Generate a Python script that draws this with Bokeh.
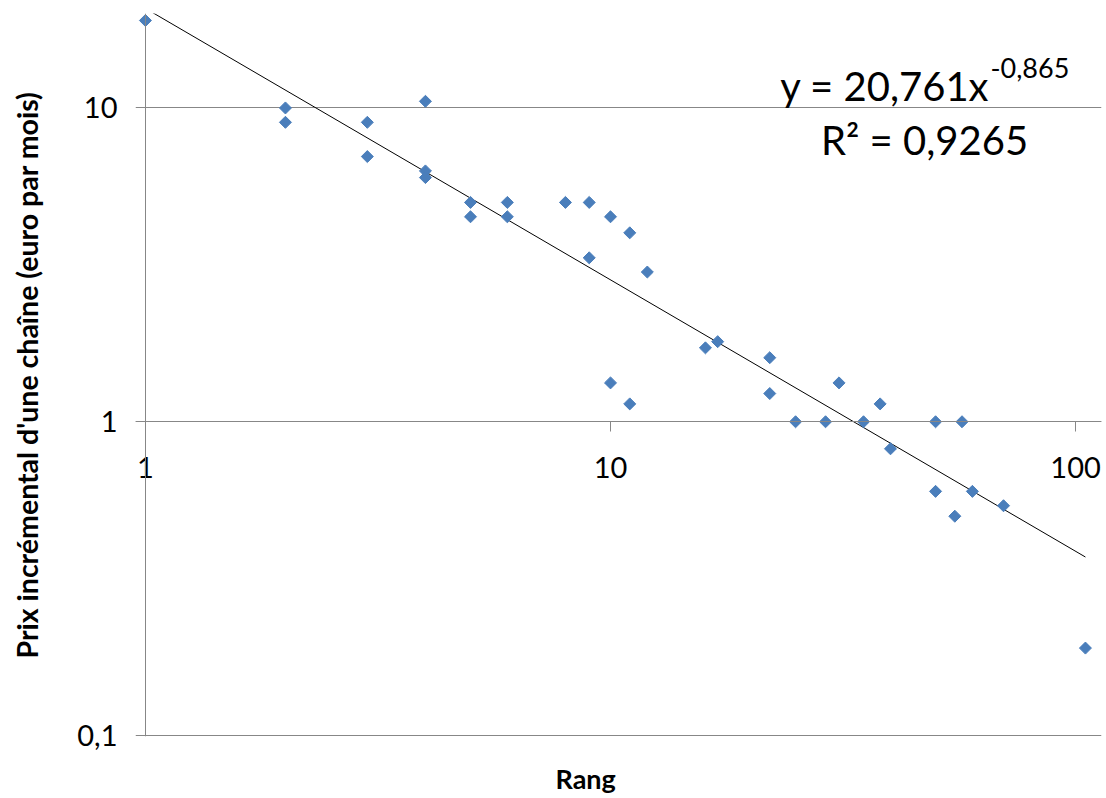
import math
from bokeh.plotting import figure
from bokeh.models import (Range1d, FixedTicker, CustomJSTickFormatter, Label,
                          LogAxis, Title)
from bokeh.embed import file_html
from bokeh.resources import INLINE

# ---- data ----
rank = [1, 2, 2, 3, 3, 4, 4, 4, 5, 5, 6, 6, 8, 9, 9, 10, 10, 11, 11, 12,
        16, 17, 22, 22, 25, 29, 31, 35, 38, 40, 50, 50, 55, 57, 60, 70, 105]
price = [19, 10, 9, 9, 7, 10.5, 6.3, 6, 5, 4.5, 5, 4.5, 5, 5, 3.33, 4.5, 1.33, 4, 1.14, 3,
         1.72, 1.8, 1.6, 1.23, 1, 1, 1.33, 1, 1.14, 0.82, 1, 0.6, 0.5, 1, 0.6, 0.54, 0.19]
fit_a = 20.761
fit_b = -0.865
r2_text = "R² = 0,9265"
eq_main = "y = 20,761x"
eq_exp = "-0,865"
x_ticks = [1, 10, 100]
y_ticks = [0.1, 1, 10]
x_title = "Rang"
y_title = "Prix incrémental d'une chaîne (euro par mois)"

FONT = "Lato"
GRID = "#878787"
BLUE = "#4A7EBB"

W, H = 1104, 798
ML, MR, MT, MB = 135, 3, 13, 62
X_START, X_END, Y_START, Y_END = 0.952, 113.7, 0.0993, 20

fmt_code = "return String(tick).replace('.', ',');"

p = figure(width=W, height=H, x_axis_type="log", y_axis_type="log",
           x_range=Range1d(X_START, X_END), y_range=Range1d(Y_START, Y_END),
           output_backend="svg", toolbar_location=None, x_axis_location=None,
           min_border_left=ML, min_border_right=MR, min_border_top=MT,
           min_border_bottom=MB, background_fill_color="white",
           border_fill_color="white")
p.outline_line_color = None
p.xgrid.grid_line_color = None
p.ygrid.ticker = FixedTicker(ticks=y_ticks)
p.ygrid.grid_line_color = GRID
p.ygrid.grid_line_width = 1
p.ygrid.minor_grid_line_color = None

# left axis: labels and title only (gridlines reach past the axis as tick marks)
ya = p.yaxis[0]
ya.ticker = FixedTicker(ticks=y_ticks)
ya.formatter = CustomJSTickFormatter(code=fmt_code)
ya.axis_line_color = None
ya.major_tick_line_color = None
ya.major_tick_out = 0
ya.major_tick_in = 0
ya.minor_tick_line_color = None
ya.major_label_standoff = 18
ya.major_label_text_font = FONT
ya.major_label_text_font_size = "29px"
ya.major_label_text_color = "black"
ya.axis_label = y_title
ya.axis_label_text_font = FONT
ya.axis_label_text_font_style = "bold"
ya.axis_label_text_font_size = "28.5px"
ya.axis_label_text_color = "black"
ya.axis_label_standoff = 30

# vertical axis line at x = 1
yline = LogAxis(fixed_location=1, ticker=FixedTicker(ticks=[]))
yline.axis_line_color = GRID
yline.major_tick_out = 0
yline.major_tick_in = 0
yline.minor_tick_line_color = None
yline.major_label_text_font_size = "0px"
p.add_layout(yline, "left")

# x axis crossing the y axis at y = 1
xa = LogAxis(fixed_location=1, ticker=FixedTicker(ticks=x_ticks),
             formatter=CustomJSTickFormatter(code=fmt_code))
xa.axis_line_color = GRID
xa.major_tick_line_color = GRID
xa.major_tick_out = 10
xa.major_tick_in = 0
xa.minor_tick_line_color = None
xa.major_label_standoff = 25
xa.major_label_text_font = FONT
xa.major_label_text_font_size = "29px"
xa.major_label_text_color = "black"
p.add_layout(xa, "below")

# blank spacer band below the frame, then the x title
spacer = LogAxis(ticker=FixedTicker(ticks=[50]),
                 formatter=CustomJSTickFormatter(code="return '';"))
spacer.axis_line_color = None
spacer.major_tick_line_color = "white"
spacer.major_tick_out = 23
spacer.major_tick_in = 0
spacer.minor_tick_line_color = None
spacer.major_label_standoff = 0
spacer.major_label_text_font_size = "1px"
p.add_layout(spacer, "below")

p.add_layout(Title(text=x_title, align="left", offset=420, vertical_align="bottom",
                   standoff=0, text_font=FONT, text_font_style="bold",
                   text_font_size="27px", text_color="black"), "below")

# trend line (power fit)
tx = [min(rank), max(rank)]
ty = [fit_a * v ** fit_b for v in tx]
p.line(x=tx, y=ty, line_color="black", line_width=1)

# points
p.scatter(x=rank, y=price, marker="square", angle=math.pi / 4, size=8.5,
          fill_color=BLUE, line_color=BLUE)

# equation
p.add_layout(Label(x=989, y=85, x_units="canvas", y_units="canvas", text=eq_main,
                   text_align="right", text_baseline="alphabetic",
                   text_font=FONT, text_font_size="40px", text_color="black"))
p.add_layout(Label(x=990, y=67, x_units="canvas", y_units="canvas", text=eq_exp,
                   text_align="left", text_baseline="alphabetic",
                   text_font=FONT, text_font_size="27px", text_color="black"))
p.add_layout(Label(x=924, y=139.5, x_units="canvas", y_units="canvas", text=r2_text,
                   text_align="center", text_baseline="alphabetic",
                   text_font=FONT, text_font_size="40px", text_color="black"))

open("out.html", "w").write(file_html(p, INLINE))
